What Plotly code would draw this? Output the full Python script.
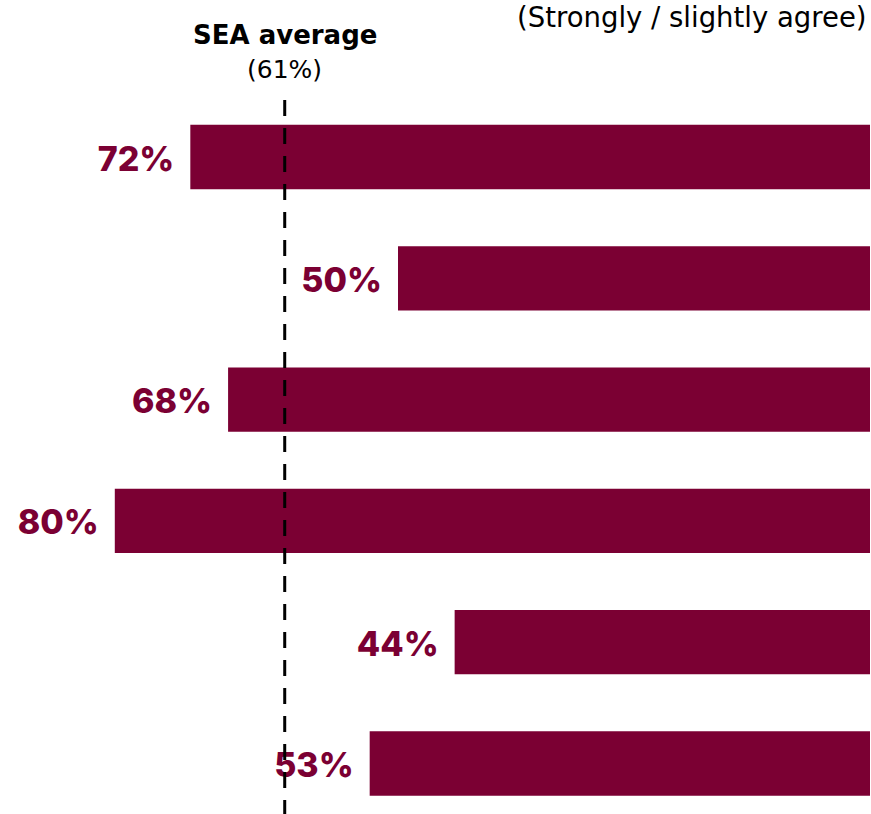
import plotly.graph_objects as go

# Data
countries = ["Indonesia", "Malaysia", "Philippines", "Singapore", "Thailand", "Vietnam"]
agree_pct = [72, 50, 68, 80, 44, 53]
sea_average = 61
avg_line_x = 62.0  # position of the dashed reference line

BAR = "#7B0033"
FONT = "Inter, 'Open Sans', Roboto, sans-serif"
HFONT = "'DejaVu Sans', 'Open Sans', sans-serif"

W, H = 871, 814
px_per_unit = 9.44
row = 121.3

fig = go.Figure()

fig.add_trace(go.Bar(
    y=countries, x=agree_pct, orientation="h",
    marker=dict(color=BAR, line=dict(width=0)),
    width=0.53, hoverinfo="skip", showlegend=False,
))

fig.add_trace(go.Scatter(
    y=countries, x=agree_pct, mode="markers+text", yaxis="y2",
    text=[f"{v}%" for v in agree_pct],
    textposition="middle left",
    textfont=dict(family=FONT, size=34, color=BAR, weight=800),
    marker=dict(size=24, opacity=0),
    hoverinfo="skip", showlegend=False,
))

top_px = 100
fig.add_shape(
    type="line", xref="x", yref="paper",
    x0=avg_line_x, x1=avg_line_x, y0=1 - top_px / H, y1=0,
    line=dict(color="black", width=3, dash="16px,12px"), layer="above",
)

fig.add_annotation(
    x=avg_line_x, xref="x", y=1 - 35 / H, yref="paper",
    text="<b>SEA average</b>", showarrow=False, xanchor="center", yanchor="middle",
    font=dict(family=HFONT, size=26, color="black"),
)
fig.add_annotation(
    x=avg_line_x, xref="x", y=1 - 70 / H, yref="paper",
    text=f"({sea_average}%)", showarrow=False, xanchor="center", yanchor="middle",
    font=dict(family=HFONT, size=25, color="black"),
)
fig.add_annotation(
    x=869 / W, xref="paper", y=1 - 17 / H, yref="paper",
    text="(Strongly / slightly agree)", showarrow=False, xanchor="right", yanchor="middle",
    font=dict(family=HFONT, size=27.5, color="black"),
)

x_left = 870 / px_per_unit
x_right = -1 / px_per_unit
r_top = -157 / row
r_bottom = H / row + r_top
shift = 5 / row  # labels sit slightly below bar centres

fig.update_layout(
    width=W, height=H,
    margin=dict(l=0, r=0, t=0, b=0),
    paper_bgcolor="white", plot_bgcolor="white",
    xaxis=dict(range=[x_left, x_right], visible=False),
    yaxis=dict(range=[r_bottom, r_top], visible=False, type="category",
               categoryorder="array", categoryarray=countries),
    yaxis2=dict(range=[r_bottom - shift, r_top - shift], visible=False, type="category",
                categoryorder="array", categoryarray=countries, overlaying="y"),
    bargap=0.47,
)

fig.write_html("out.html")
